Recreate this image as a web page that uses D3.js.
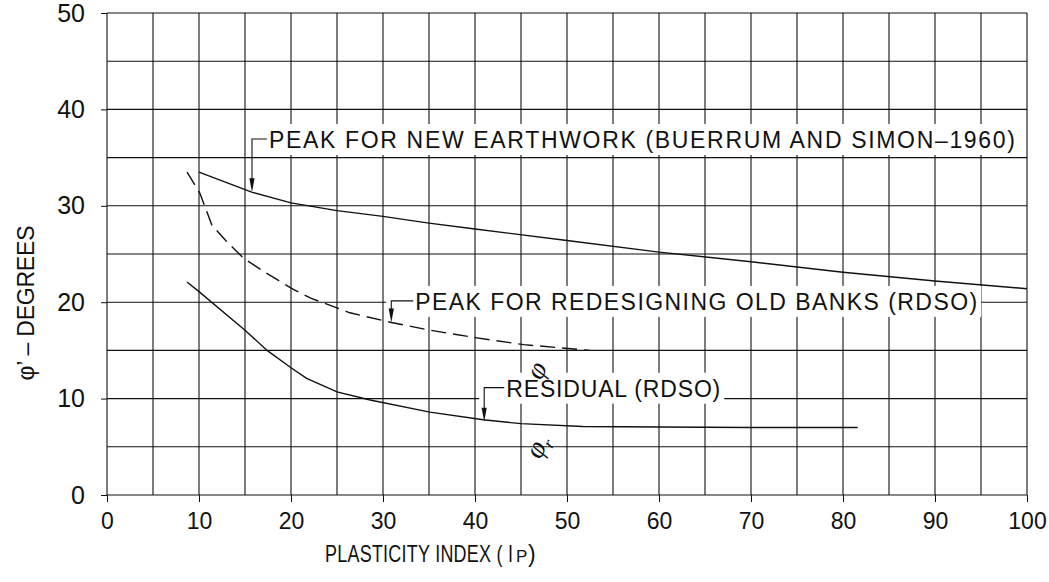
<!DOCTYPE html>
<html>
<head>
<meta charset="utf-8">
<script src="https://d3js.org/d3.v7.min.js"></script>
<style>
  body { margin: 0; background: #fff; }
  svg text { font-family: "Liberation Sans", Arial, sans-serif; fill: #111; }
</style>
</head>
<body>
<div id="chart"></div>
<script>
// tick labels
const xTickValues = [0, 10, 20, 30, 40, 50, 60, 70, 80, 90, 100];
const yTickValues = [0, 10, 20, 30, 40, 50];
const xGridValues = [0, 5, 10, 15, 20, 25, 30, 35, 40, 45, 50, 55, 60, 65, 70, 75, 80, 85, 90, 95, 100];
const yGridValues = [0, 5, 10, 15, 20, 25, 30, 35, 40, 45, 50];

// peak for new earthwork (solid)
const newEarthIp  = [10, 15.8, 20, 25, 30, 35, 40, 50, 60, 70, 80, 90, 100];
const newEarthPhi = [33.5, 31.4, 30.3, 29.5, 28.9, 28.2, 27.6, 26.4, 25.2, 24.2, 23.1, 22.2, 21.4];

// peak for redesigning old banks (dashed)
const oldBanksIp  = [8.7, 10.1, 11.4, 13, 14.8, 17, 20.3, 22.2, 26.4, 30.9, 35.1, 40.2, 45.3, 52.5];
const oldBanksPhi = [33.5, 31.3, 28.0, 26.3, 24.6, 23.2, 21.3, 20.4, 18.9, 17.9, 17.1, 16.3, 15.6, 15.0];

// residual (solid)
const residualIp  = [8.7, 10, 15, 17.4, 20, 21.7, 25, 28.6, 35.1, 40.9, 45, 51.7, 60, 70, 81.6];
const residualPhi = [22.1, 21.1, 17.1, 15.0, 13.2, 12.1, 10.7, 9.85, 8.6, 7.8, 7.4, 7.1, 7.05, 7.0, 7.0];

// annotation labels: arrow tip on the curve, text start/baseline
const labelTexts = ["PEAK FOR NEW EARTHWORK (BUERRUM AND SIMON\u20131960)",
                    "PEAK FOR REDESIGNING OLD BANKS (RDSO)",
                    "RESIDUAL (RDSO)"];
const labelTipIp   = [15.76, 30.9, 41.0];
const labelTipPhi  = [31.4, 17.9, 7.6];
const labelTextIp  = [17.6, 33.5, 43.4];
const labelTextPhi = [36.0, 19.2, 10.2];
const labelLengths = [746, 562, 214];

function drawChart() {
    const margin = { top: 13, right: 22, bottom: 87, left: 107 },
        width = 1049 - margin.left - margin.right,
        height = 582 - margin.top - margin.bottom;

    const svg = d3.select("#chart")
        .append("svg")
        .attr("width", width + margin.left + margin.right)
        .attr("height", height + margin.top + margin.bottom)
        .append("g")
        .attr("transform", "translate(" + margin.left + "," + margin.top + ")");

    const x = d3.scaleLinear().domain([0, 100]).range([0, width]);
    const y = d3.scaleLinear().domain([0, 50]).range([height, 0]);

    // grid
    svg.append("g").selectAll("line")
        .data(xGridValues).enter().append("line")
        .attr("x1", d => x(d)).attr("x2", d => x(d))
        .attr("y1", 0).attr("y2", height)
        .attr("stroke", "#111").attr("stroke-width", 1.1);
    svg.append("g").selectAll("line")
        .data(yGridValues).enter().append("line")
        .attr("x1", 0).attr("x2", width)
        .attr("y1", d => y(d)).attr("y2", d => y(d))
        .attr("stroke", "#111").attr("stroke-width", 1.1);

    // axes (ticks + labels only)
    const xAxis = svg.append("g")
        .attr("transform", "translate(0," + height + ")")
        .call(d3.axisBottom(x).tickValues(xTickValues).tickSize(7).tickSizeOuter(0).tickPadding(11));
    xAxis.select(".domain").remove();
    xAxis.selectAll("line").attr("stroke", "#111");
    xAxis.selectAll("text").attr("font-size", "23px").attr("font-family", "Liberation Sans, Arial, sans-serif");

    const yAxis = svg.append("g")
        .call(d3.axisLeft(y).tickValues(yTickValues).tickSize(6).tickSizeOuter(0).tickPadding(16));
    yAxis.select(".domain").remove();
    yAxis.selectAll("line").attr("stroke", "#111");
    yAxis.selectAll("text").attr("font-size", "25px").attr("font-family", "Liberation Sans, Arial, sans-serif");

    // white boxes behind the labels
    labelTexts.forEach((t, i) => {
        const tx = x(labelTextIp[i]), ty = y(labelTextPhi[i]);
        const left = x(labelTipIp[i]) - 5;
        svg.append("rect")
            .attr("x", left)
            .attr("y", ty - 24)
            .attr("width", tx + labelLengths[i] + 4 - left)
            .attr("height", 31)
            .attr("fill", "#fff");
    });

    // curves
    const line = d3.line().x(d => x(d[0])).y(d => y(d[1]));
    svg.append("path")
        .datum(newEarthIp.map((v, i) => [v, newEarthPhi[i]]))
        .attr("d", line).attr("fill", "none").attr("stroke", "#111").attr("stroke-width", 1.4);
    svg.append("path")
        .datum(oldBanksIp.map((v, i) => [v, oldBanksPhi[i]]))
        .attr("d", line).attr("fill", "none").attr("stroke", "#111").attr("stroke-width", 1.4)
        .attr("stroke-dasharray", "15,7");
    svg.append("path")
        .datum(residualIp.map((v, i) => [v, residualPhi[i]]))
        .attr("d", line).attr("fill", "none").attr("stroke", "#111").attr("stroke-width", 1.4);

    // labels with leader arrows
    labelTexts.forEach((t, i) => {
        const tipX = x(labelTipIp[i]), tipY = y(labelTipPhi[i]);
        const tx = x(labelTextIp[i]), ty = y(labelTextPhi[i]);
        const ly = ty - 9;
        svg.append("path")
            .attr("d", "M" + (tx - 2) + "," + ly + "H" + tipX + "V" + (tipY - 12))
            .attr("fill", "none").attr("stroke", "#111").attr("stroke-width", 1.1);
        svg.append("path")
            .attr("d", "M" + (tipX - 2.6) + "," + (tipY - 14) + "L" + (tipX + 2.6) + "," + (tipY - 14) + "L" + tipX + "," + tipY + "Z")
            .attr("fill", "#111");
        svg.append("text")
            .attr("x", tx).attr("y", ty)
            .attr("font-size", "23px")
            .attr("textLength", labelLengths[i])
            .attr("lengthAdjust", "spacing")
            .text(t);
    });

    // phi symbols near the curves
    svg.append("text")
        .attr("transform", "translate(" + x(46.6) + "," + y(13.0) + ") rotate(-62)")
        .attr("text-anchor", "middle").attr("dy", "0.35em")
        .attr("font-size", "28px").attr("font-style", "italic")
        .style("font-family", "Liberation Serif, serif")
        .text("\u03c6");
    const phiR = svg.append("text")
        .attr("transform", "translate(" + x(46.7) + "," + y(5.1) + ") rotate(-62)")
        .attr("text-anchor", "middle").attr("dy", "0.35em")
        .attr("font-size", "28px").attr("font-style", "italic")
        .style("font-family", "Liberation Serif, serif");
    phiR.append("tspan").text("\u03c6");
    phiR.append("tspan").attr("font-size", "17px").attr("dy", "0.3em").text("r");

    // axis titles
    const xt = svg.append("g").attr("transform", "translate(0," + (height + 67) + ")");
    xt.append("g").attr("transform", "translate(218,0) scale(0.78,1)")
        .append("text").attr("font-size", "23px")
        .attr("textLength", 188 / 0.78).attr("lengthAdjust", "spacing")
        .text("PLASTICITY INDEX ( I");
    xt.append("text").attr("x", 409).attr("font-size", "17px").text("P");
    xt.append("text").attr("x", 421).attr("font-size", "23px").text(")");

    svg.append("text")
        .attr("transform", "translate(" + (-73) + "," + 290 + ") rotate(-90)")
        .attr("text-anchor", "middle")
        .attr("font-size", "23px")
        .attr("textLength", 155).attr("lengthAdjust", "spacing")
        .text("\u03c6\u2019 \u2013 DEGREES");
}

drawChart();
</script>
</body>
</html>
